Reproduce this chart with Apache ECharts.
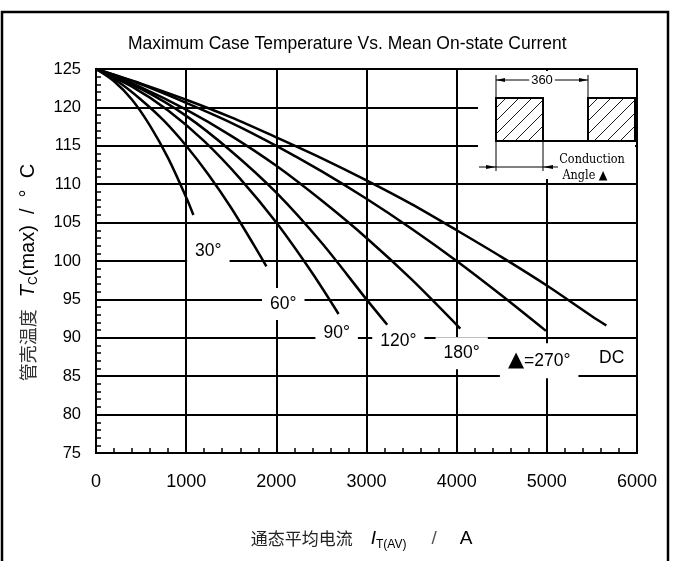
<!DOCTYPE html>
<html>
<head>
<meta charset="utf-8">
<script src="https://cdn.jsdelivr.net/npm/echarts@6/dist/echarts.min.js"></script>
<style>
  html, body { margin: 0; padding: 0; background: #fff; }
  #chart { width: 675px; height: 561px; }
</style>
</head>
<body>
<div id="chart"></div>
<script>
// curve data: current (A) and max case temperature (C)
const x30 = [0, 200, 400, 600, 800, 1000, 1080];
const t30 = [125, 123.4, 121.0, 117.6, 113.4, 108.3, 106.0];
const x60 = [0, 250, 500, 750, 1000, 1250, 1500, 1750, 1890];
const t60 = [125, 123.3, 121.0, 118.3, 115.0, 111.2, 106.9, 102.1, 99.3];
const x90 = [0, 400, 800, 1200, 1600, 2000, 2400, 2690];
const t90 = [125, 122.7, 119.6, 115.6, 110.7, 105.0, 98.4, 93.1];
const x120 = [0, 500, 1000, 1500, 2000, 2500, 3000, 3230];
const t120 = [125, 122.4, 118.9, 114.3, 108.9, 102.4, 95.0, 91.7];
const x180 = [0, 500, 1000, 1500, 2000, 2500, 3000, 3500, 4040];
const t180 = [125, 122.6, 119.7, 116.3, 112.4, 107.9, 103.0, 97.6, 91.2];
const x270 = [0, 500, 1000, 1500, 2000, 2500, 3000, 3500, 4000, 4500, 4990];
const t270 = [125, 123.0, 120.6, 118.0, 115.0, 111.7, 108.1, 104.2, 100.0, 95.5, 90.9];
const xDC = [0, 500, 1000, 1500, 2000, 2500, 3000, 3500, 4000, 4500, 5000, 5500, 5660];
const tDC = [125, 123.1, 121.0, 118.7, 116.1, 113.4, 110.5, 107.4, 104.0, 100.5, 96.8, 92.8, 91.6];

// curve labels and where they sit
const labelNames = ["30°", "60°", "90°", "120°", "180°", "{t|▲}=270°", "DC"];
const labelX = [1246, 2077, 2669, 3353, 4056, 4915, 5719];
const labelY = [101.3, 94.4, 90.6, 89.5, 88.0, 87.0, 87.3];

const FONT = "'Liberation Sans', Arial, sans-serif";
const CAD = "'DejaVu Serif Condensed', 'DejaVu Serif', serif";

const chart = echarts.init(document.getElementById("chart"));

function zip(xs, ys) {
  return xs.map((x, i) => [x, ys[i]]);
}

const curves = [
  [x30, t30], [x60, t60], [x90, t90], [x120, t120],
  [x180, t180], [x270, t270], [xDC, tDC],
];

const series = curves.map((c) => ({
  type: "line",
  data: zip(c[0], c[1]),
  symbol: "none",
  smooth: 0.3,
  lineStyle: { color: "#000", width: 2.5 },
  z: 3,
}));

series.push({
  type: "scatter",
  data: labelNames.map((n, i) => ({ name: n, value: [labelX[i], labelY[i]] })),
  symbolSize: 1,
  itemStyle: { color: "rgba(0,0,0,0)", opacity: 1 },
  z: 5,
  label: {
    show: true,
    position: "inside",
    formatter: (p) => p.name,
    fontFamily: FONT,
    fontSize: 17.5,
    color: "#000",
    backgroundColor: "#fff",
    padding: [7, 8, 7, 8],
    rich: {
      t: { fontFamily: "'DejaVu Sans'", fontSize: 21, color: "#000" },
    },
  },
});

// inset: conduction angle sketch (decoration, pixel placed)
const inset = [];
const Z = 100;
inset.push({ type: "rect", z: Z, shape: { x: 478, y: 71, width: 157, height: 108 }, style: { fill: "#fff" } });
function hatchRect(x0, y0, w, h) {
  inset.push({ type: "rect", z: Z + 1, shape: { x: x0, y: y0, width: w, height: h }, style: { fill: "#fff", stroke: "#000", lineWidth: 2 } });
  for (let c = x0 + y0 + 10; c < x0 + w + y0 + h; c += 13) {
    const xa = Math.max(x0, c - (y0 + h));
    const xb = Math.min(x0 + w, c - y0);
    if (xb <= xa) continue;
    inset.push({ type: "line", z: Z + 2, shape: { x1: xa, y1: c - xa, x2: xb, y2: c - xb }, style: { stroke: "#000", lineWidth: 0.9 } });
  }
}
hatchRect(496, 98, 47, 43);
hatchRect(588, 98, 47, 43);
inset.push({ type: "line", z: Z + 3, shape: { x1: 496, y1: 141, x2: 635, y2: 141 }, style: { stroke: "#000", lineWidth: 2 } });
// 360 dimension
inset.push({ type: "line", z: Z + 1, shape: { x1: 496, y1: 75, x2: 496, y2: 98 }, style: { stroke: "#000", lineWidth: 1 } });
inset.push({ type: "line", z: Z + 1, shape: { x1: 588, y1: 75, x2: 588, y2: 98 }, style: { stroke: "#000", lineWidth: 1 } });
inset.push({ type: "line", z: Z + 1, shape: { x1: 496, y1: 80, x2: 588, y2: 80 }, style: { stroke: "#000", lineWidth: 1 } });
inset.push({ type: "polygon", z: Z + 1, shape: { points: [[496, 80], [505, 78], [505, 82]] }, style: { fill: "#000" } });
inset.push({ type: "polygon", z: Z + 1, shape: { points: [[588, 80], [579, 78], [579, 82]] }, style: { fill: "#000" } });
inset.push({ type: "text", z: Z + 2, x: 542, y: 80, style: { text: "360", font: "13px " + FONT, fill: "#000", align: "center", verticalAlign: "middle", backgroundColor: "#fff", padding: [0, 2] } });
// conduction angle dimension
inset.push({ type: "line", z: Z + 1, shape: { x1: 496, y1: 141, x2: 496, y2: 171 }, style: { stroke: "#000", lineWidth: 1 } });
inset.push({ type: "line", z: Z + 1, shape: { x1: 543, y1: 141, x2: 543, y2: 171 }, style: { stroke: "#000", lineWidth: 1 } });
inset.push({ type: "line", z: Z + 1, shape: { x1: 479, y1: 167, x2: 558, y2: 167 }, style: { stroke: "#000", lineWidth: 1 } });
inset.push({ type: "polygon", z: Z + 1, shape: { points: [[496, 167], [486, 165], [486, 169]] }, style: { fill: "#000" } });
inset.push({ type: "polygon", z: Z + 1, shape: { points: [[543, 167], [553, 165], [553, 169]] }, style: { fill: "#000" } });
inset.push({ type: "text", z: Z + 2, x: 592, y: 160, style: { text: "Conduction", font: "12.5px " + CAD, fill: "#000", align: "center", verticalAlign: "middle" } });
inset.push({ type: "text", z: Z + 2, x: 585, y: 176, style: { text: "Angle ▲", font: "12.5px " + CAD, fill: "#000", align: "center", verticalAlign: "middle" } });

const option = {
  animation: false,
  backgroundColor: "#fff",
  title: {
    text: "Maximum Case Temperature Vs. Mean On-state Current",
    left: 123,
    top: 30,
    textStyle: { fontFamily: FONT, fontSize: 17.5, fontWeight: "normal", color: "#000" },
  },
  grid: {
    left: 96,
    right: 38,
    top: 69,
    bottom: 108,
    show: true,
    borderColor: "#000",
    borderWidth: 2,
  },
  xAxis: {
    type: "value",
    min: 0,
    max: 6000,
    interval: 1000,
    name: "{zh|通态平均电流}{it|I}{sub|T(AV)}{n|/}{a|A}",
    nameLocation: "middle",
    nameGap: 74,
    nameTextStyle: {
      rich: {
        zh: { fontFamily: "'Noto Sans CJK SC'", fontSize: 17, color: "#222", lineHeight: 24, padding: [0, 18, 0, 0] },
        it: { fontFamily: FONT, fontStyle: "italic", fontSize: 19, color: "#000", lineHeight: 24 },
        sub: { fontFamily: FONT, fontSize: 12, color: "#000", lineHeight: 24, verticalAlign: "bottom" },
        n: { fontFamily: FONT, fontSize: 19, color: "#555", lineHeight: 24, padding: [0, 0, 0, 25] },
        a: { fontFamily: FONT, fontSize: 19, color: "#000", lineHeight: 24, padding: [0, 10, 0, 23] },
      },
    },
    axisLine: { show: true, lineStyle: { color: "#000", width: 2 } },
    axisTick: { show: true, inside: true, length: 6, lineStyle: { color: "#000", width: 1.5 } },
    minorTick: { show: true, splitNumber: 5, length: 5, lineStyle: { color: "#000", width: 1.5 } },
    splitLine: { show: true, lineStyle: { color: "#000", width: 2 } },
    axisLabel: { fontFamily: FONT, fontSize: 18, color: "#000", margin: 20, formatter: (v) => String(v) },
  },
  yAxis: {
    type: "value",
    min: 75,
    max: 125,
    interval: 5,
    name: "{zh|管壳温度}{it|T}{sub|C}{n|(max)  /  °  C}",
    nameLocation: "middle",
    nameGap: 56,
    nameTextStyle: {
      rich: {
        zh: { fontFamily: "'Noto Sans CJK SC'", fontSize: 18, color: "#333", lineHeight: 24, padding: [0, 12, 0, 0] },
        it: { fontFamily: FONT, fontStyle: "italic", fontSize: 20, color: "#000", lineHeight: 24 },
        sub: { fontFamily: FONT, fontSize: 12, color: "#000", lineHeight: 24, verticalAlign: "bottom" },
        n: { fontFamily: FONT, fontSize: 20, color: "#000", lineHeight: 24, padding: [0, 23, 0, 0] },
      },
    },
    axisLine: { show: true, lineStyle: { color: "#000", width: 2 } },
    axisTick: { show: true, inside: true, length: 6, lineStyle: { color: "#000", width: 1.5 } },
    minorTick: { show: true, splitNumber: 5, length: 5, lineStyle: { color: "#000", width: 1.5 } },
    splitLine: { show: true, lineStyle: { color: "#000", width: 2 } },
    axisLabel: { fontFamily: FONT, fontSize: 16.5, color: "#000", margin: 15 },
  },
  series: series,
  graphic: [
    {
      type: "rect",
      z: 200,
      shape: { x: 2, y: 12, width: 666, height: 600 },
      style: { fill: "none", stroke: "#000", lineWidth: 2.5 },
      silent: true,
    },
  ].concat(inset.map((e) => Object.assign({ silent: true }, e))),
};

chart.setOption(option);
</script>
</body>
</html>
